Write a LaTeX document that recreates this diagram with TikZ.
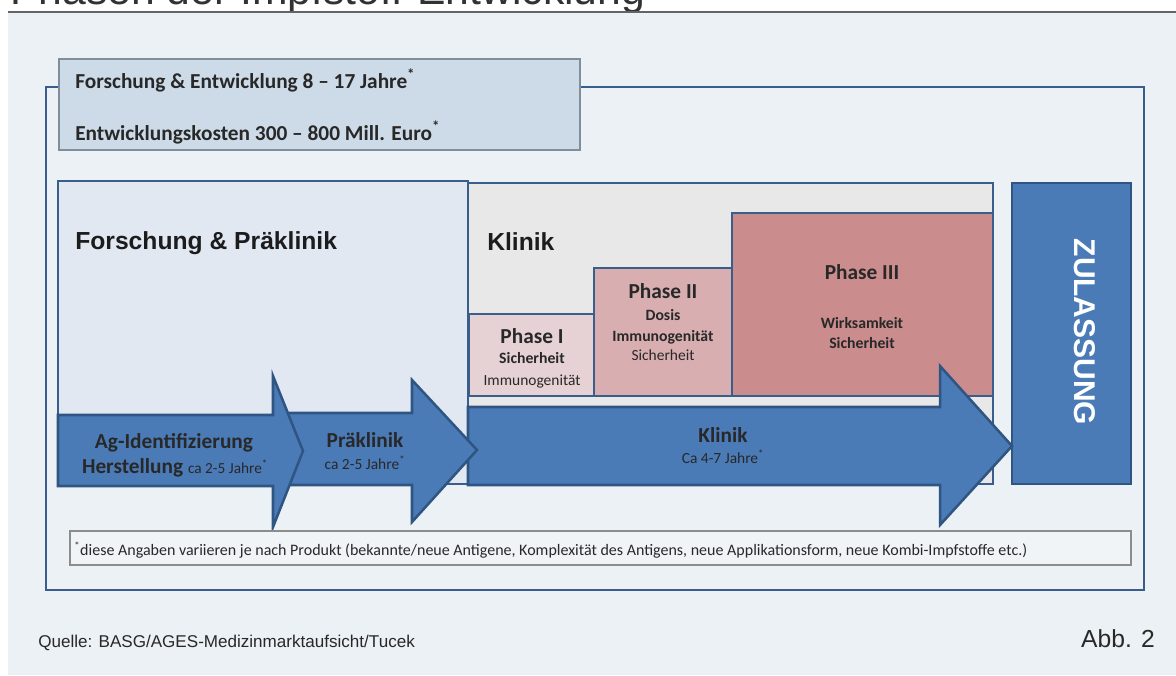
\documentclass[tikz,border=0pt]{standalone}
\usepackage{fontspec}
\setmainfont{Carlito}
\newfontfamily\arialfont{Liberation Sans}

\definecolor{bgcol}{RGB}{236,241,245}
\definecolor{rulecol}{RGB}{100,100,100}
\definecolor{titlecol}{RGB}{50,50,50}
\definecolor{framecol}{RGB}{58,94,140}
\definecolor{arrowfill}{RGB}{74,123,183}
\definecolor{arrowline}{RGB}{47,85,131}
\definecolor{fpfill}{RGB}{225,232,241}
\definecolor{klinikfill}{RGB}{232,232,232}
\definecolor{phaseone}{RGB}{230,210,213}
\definecolor{phasetwo}{RGB}{217,174,177}
\definecolor{phasethree}{RGB}{203,140,142}
\definecolor{topfill}{RGB}{205,219,232}
\definecolor{topline}{RGB}{128,141,155}
\definecolor{notefill}{RGB}{240,244,247}
\definecolor{noteline}{RGB}{140,140,140}
\definecolor{txtcol}{RGB}{40,40,40}
\definecolor{headcol}{RGB}{28,28,30}

\begin{document}
\begin{tikzpicture}[x=0.75pt,y=0.75pt,yscale=-1,xscale=1,
  phasebox/.style={draw=framecol, line width=2.2pt},
  blockarrow/.style={fill=arrowfill, draw=arrowline, line width=1.9pt, line join=miter},
  lbl/.style={inner sep=0pt, anchor=base, text=txtcol},
  hdr/.style={lbl, font=\bfseries\fontsize{16}{19}\selectfont},
  bighdr/.style={lbl, anchor=base west, text=headcol, font=\arialfont\bfseries\fontsize{18.5}{22}\selectfont},
  small/.style={lbl, font=\fontsize{11.6}{14}\selectfont},
  smallbf/.style={lbl, font=\bfseries\fontsize{11.8}{14}\selectfont}]
\useasboundingbox (0,0) rectangle (1176,675);
\clip (0,0) rectangle (1176,675);

%Shape: Background
\fill[white] (0,0) rectangle (1176,675);
\fill[bgcol] (8,13) rectangle (1176,675);
% Text Node (title, cut off at the top)
\node (title) [lbl, anchor=base west, text=titlecol, font=\arialfont\fontsize{32}{36}\selectfont] at (10,4) {Phasen der Impfstoff-Entwicklung};
%Straight Lines
\draw[line width=1.5pt, draw=rulecol] (8,12) -- (1176,12);

%Shape: Outer frame
\draw[framecol, line width=2.2pt] (46,87) rectangle (1144,590);
%Shape: Top box
\draw[fill=topfill, draw=topline, line width=1.1pt] (59,59) rectangle (580,150);
% Text Node
\node (dauer) [lbl, anchor=base west, font=\bfseries\fontsize{16}{19}\selectfont] at (75,88) {Forschung \& Entwicklung 8 – 17 Jahre\textsuperscript{*}};
% Text Node
\node (kosten) [lbl, anchor=base west, font=\bfseries\fontsize{16}{19}\selectfont] at (75,140) {Entwicklungskosten 300 – 800 Mill. Euro\textsuperscript{*}};

%Shape: Forschung & Praeklinik box
\draw[phasebox, fill=fpfill] (58,181) rectangle (468,484);
%Shape: Klinik box
\draw[phasebox, fill=klinikfill] (468,183) rectangle (993,484);
%Shape: Phase I
\draw[phasebox, fill=phaseone] (469,314) rectangle (594,396);
%Shape: Phase II
\draw[phasebox, fill=phasetwo] (594,268) rectangle (732,396);
%Shape: Phase III
\draw[phasebox, fill=phasethree] (732,213) rectangle (993,396);
%Shape: Zulassung
\draw[draw=arrowline, line width=1.9pt, fill=arrowfill] (1012,183) rectangle (1131,484);

%Shape: Klinik arrow
\draw[blockarrow] (468,407) -- (940,407) -- (940,366) -- (1012,446) -- (940,525) -- (940,485) -- (468,485) -- cycle;
%Shape: Praeklinik arrow
\draw[blockarrow] (285,413) -- (412,413) -- (412,380) -- (477,450) -- (412,522) -- (412,485) -- (285,485) -- cycle;
%Shape: Ag arrow
\draw[blockarrow] (58,415) -- (273,415) -- (273,376) -- (303,451) -- (273,527) -- (273,486) -- (58,486) -- cycle;

% Text Node
\node (fp) [bighdr] at (75,249) {Forschung \& Präklinik};
% Text Node
\node (klinik) [bighdr] at (487,250) {Klinik};
% Text Node
\node (zul) [inner sep=0pt, text=white, rotate=-90, font=\arialfont\bfseries\fontsize{22.5}{26}\selectfont] at (1085,332) {ZULASSUNG};

% Text Node
\node (p1) [hdr] at (532,343) {Phase I};
\node (p1a) [smallbf] at (532,363) {Sicherheit};
\node (p1b) [small] at (532,385) {Immunogenität};
% Text Node
\node (p2) [hdr] at (663,298) {Phase II};
\node (p2a) [smallbf] at (663,320) {Dosis};
\node (p2b) [smallbf] at (663,341) {Immunogenität};
\node (p2c) [small] at (663,360) {Sicherheit};
% Text Node
\node (p3) [hdr] at (862,279) {Phase III};
\node (p3a) [smallbf] at (862,328) {Wirksamkeit};
\node (p3b) [smallbf] at (862,348) {Sicherheit};

% Text Node
\node (agid) [hdr] at (174,448) {Ag-Identifizierung};
\node (herst) [hdr] at (175,473) {Herstellung {\mdseries\fontsize{11.5}{14}\selectfont ca 2-5 Jahre\textsuperscript{*}}};
% Text Node
\node (prae) [hdr] at (365,447) {Präklinik};
\node (praedauer) [small] at (365,469) {ca 2-5 Jahre\textsuperscript{*}};
% Text Node
\node (kpfeil) [hdr] at (723,442) {Klinik};
\node (kdauer) [small] at (723,463) {Ca 4-7 Jahre\textsuperscript{*}};

%Shape: Footnote box
\draw[fill=notefill, draw=noteline, line width=0.9pt] (70,531) rectangle (1131,565);
% Text Node
\node (note) [lbl, anchor=base west, font=\fontsize{12}{14}\selectfont] at (74,555) {\textsuperscript{*}diese Angaben variieren je nach Produkt (bekannte/neue Antigene, Komplexität des Antigens, neue Applikationsform, neue Kombi-Impfstoffe etc.)};

% Text Node
\node (quelle) [lbl, anchor=base west, font=\arialfont\fontsize{12.8}{15}\selectfont] at (38,647) {Quelle: BASG/AGES-Medizinmarktaufsicht/Tucek};
% Text Node
\node (abb) [lbl, anchor=base east, font=\arialfont\fontsize{18.5}{22}\selectfont] at (1155,647) {Abb. 2};

\end{tikzpicture}
\end{document}
